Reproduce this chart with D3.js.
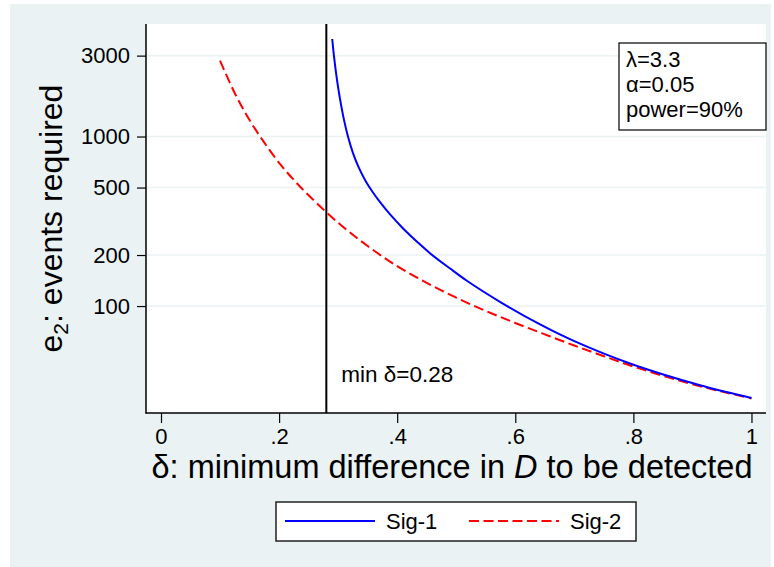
<!DOCTYPE html>
<html>
<head>
<meta charset="utf-8">
<script src="https://cdn.jsdelivr.net/npm/d3@7"></script>
<style>
  html, body { margin: 0; padding: 0; background: #ffffff; }
  svg { display: block; font-family: "Liberation Sans", Arial, sans-serif; }
</style>
</head>
<body>
<svg id="chart" width="774" height="567"></svg>
<script>
// Minimum detectable difference (delta) and events required, two significance rules
const sig1Delta  = [0.290, 0.293, 0.298, 0.303, 0.310, 0.317, 0.325, 0.335, 0.346, 0.357, 0.371, 0.388, 0.410, 0.434, 0.457, 0.489, 0.518, 0.574, 0.642, 0.699, 0.799, 0.913, 1.000];
const sig1Events = [3760, 2970, 2163, 1680, 1250, 989, 801, 655, 551, 479, 410, 347, 287, 239, 203, 167, 141, 106, 77.9, 62.3, 45.2, 34.1, 28.7];

const sig2Delta  = [0.100, 0.125, 0.150, 0.175, 0.200, 0.225, 0.250, 0.300, 0.350, 0.400, 0.450, 0.500, 0.550, 0.600, 0.650, 0.700, 0.750, 0.800, 0.850, 0.900, 0.950, 1.000];
const sig2Events = [2800, 1800, 1250, 920, 700, 554, 450, 310, 226, 172, 137, 112, 93.6, 79.5, 68.1, 58.5, 50.6, 44.0, 38.8, 34.6, 31.3, 28.5];

const minDelta = 0.28;
const xTicks = [0, 0.2, 0.4, 0.6, 0.8, 1];
const xTickLabels = ["0", ".2", ".4", ".6", ".8", "1"];
const yTicks = [100, 200, 500, 1000, 3000];
const yTickLabels = ["100", "200", "500", "1000", "3000"];
const seriesNames = ["Sig-1", "Sig-2"];
const noteLines = ["\u03bb=3.3", "\u03b1=0.05", "power=90%"];

const svg = d3.select("#chart");
const bg = "#eaf2f3";
const dash2 = "10,4.5";

// outer panel
svg.append("rect").attr("x", 10).attr("y", 4).attr("width", 761).attr("height", 563).attr("fill", bg);

const plot = { left: 146, right: 766, top: 24, bottom: 413 };
svg.append("rect")
  .attr("x", plot.left).attr("y", plot.top)
  .attr("width", plot.right - plot.left).attr("height", plot.bottom - plot.top)
  .attr("fill", "#ffffff");

const x = d3.scaleLinear().domain([-0.0254, 1.0246]).range([plot.left, plot.right]);
const y = d3.scaleLog().domain([23.4, 4610]).range([plot.bottom, plot.top]);

// horizontal grid lines
svg.append("g").selectAll("line").data(yTicks).join("line")
  .attr("x1", plot.left).attr("x2", plot.right)
  .attr("y1", d => y(d)).attr("y2", d => y(d))
  .attr("stroke", bg).attr("stroke-width", 1.5);

// y axis
const yAxis = d3.axisLeft(y).tickValues(yTicks)
  .tickFormat((d, i) => yTickLabels[i]).tickSize(9).tickPadding(7).tickSizeOuter(0);
const gy = svg.append("g").attr("transform", `translate(${plot.left},0)`).call(yAxis);
gy.select(".domain").remove();
gy.selectAll(".tick line").attr("stroke", "#000").attr("stroke-width", 1.2);
gy.selectAll(".tick text").attr("font-size", 22).attr("fill", "#000")
  .attr("font-family", "Liberation Sans, Arial, sans-serif");
svg.append("line").attr("x1", plot.left).attr("x2", plot.left)
  .attr("y1", plot.top).attr("y2", plot.bottom + 0.5)
  .attr("stroke", "#000").attr("stroke-width", 1.5);

// x axis
const xAxis = d3.axisBottom(x).tickValues(xTicks)
  .tickFormat((d, i) => xTickLabels[i]).tickSize(10).tickPadding(5).tickSizeOuter(0);
const gx = svg.append("g").attr("transform", `translate(0,${plot.bottom})`).call(xAxis);
gx.select(".domain").remove();
gx.selectAll(".tick line").attr("stroke", "#000").attr("stroke-width", 1.2);
gx.selectAll(".tick text").attr("font-size", 22).attr("fill", "#000")
  .attr("font-family", "Liberation Sans, Arial, sans-serif");
svg.append("line").attr("x1", plot.left - 0.5).attr("x2", plot.right)
  .attr("y1", plot.bottom).attr("y2", plot.bottom)
  .attr("stroke", "#000").attr("stroke-width", 1.5);

// vertical reference line at the minimum detectable difference
svg.append("line")
  .attr("x1", x(minDelta)).attr("x2", x(minDelta))
  .attr("y1", plot.top).attr("y2", plot.bottom)
  .attr("stroke", "#000").attr("stroke-width", 2);

svg.append("text").attr("x", x(minDelta) + 15).attr("y", 382)
  .attr("font-size", 22.5).attr("fill", "#000")
  .text("min \u03b4=" + minDelta.toFixed(2));

// curves (centripetal Catmull-Rom keeps them smooth through unevenly spaced points)
const line = d3.line().x(d => x(d[0])).y(d => y(d[1])).curve(d3.curveCatmullRom.alpha(0.5));
const sig1 = sig1Delta.map((d, i) => [d, sig1Events[i]]);
const sig2 = sig2Delta.map((d, i) => [d, sig2Events[i]]);

svg.append("path").datum(sig2).attr("d", line)
  .attr("fill", "none").attr("stroke", "#ff0000").attr("stroke-width", 2)
  .attr("stroke-dasharray", dash2);
svg.append("path").datum(sig1).attr("d", line)
  .attr("fill", "none").attr("stroke", "#0000ff").attr("stroke-width", 2);

// note box
svg.append("rect").attr("x", 619).attr("y", 43).attr("width", 147).attr("height", 87)
  .attr("fill", "#ffffff").attr("stroke", "#000").attr("stroke-width", 1.2);
svg.append("g").selectAll("text").data(noteLines).join("text")
  .attr("x", 626).attr("y", (d, i) => 67 + i * 25)
  .attr("font-size", 22).attr("fill", "#000").text(d => d);

// axis titles
const yTitle = svg.append("text")
  .attr("transform", `translate(62,${(plot.top + plot.bottom) / 2}) rotate(-90)`)
  .attr("text-anchor", "middle").attr("font-size", 32).attr("fill", "#000");
yTitle.append("tspan").text("e");
yTitle.append("tspan").attr("font-size", 21).attr("dy", 6).text("2");
yTitle.append("tspan").attr("dy", -6).text(": events required");

const xTitle = svg.append("text")
  .attr("x", (plot.left + plot.right) / 2 - 4).attr("y", 478)
  .attr("text-anchor", "middle").attr("font-size", 32.5).attr("fill", "#000");
xTitle.append("tspan").text("\u03b4: minimum difference in ");
xTitle.append("tspan").attr("font-style", "italic").text("D");
xTitle.append("tspan").text(" to be detected");

// legend
const lg = svg.append("g");
lg.append("rect").attr("x", 276).attr("y", 502).attr("width", 360).attr("height", 39)
  .attr("fill", "#ffffff").attr("stroke", "#222").attr("stroke-width", 1.5);
const legendItems = [
  { name: seriesNames[0], color: "#0000ff", dash: null, x0: 285 },
  { name: seriesNames[1], color: "#ff0000", dash: dash2, x0: 469 }
];
legendItems.forEach(it => {
  lg.append("line").attr("x1", it.x0).attr("x2", it.x0 + 90).attr("y1", 521).attr("y2", 521)
    .attr("stroke", it.color).attr("stroke-width", 2)
    .attr("stroke-dasharray", it.dash);
  lg.append("text").attr("x", it.x0 + 101).attr("y", 529)
    .attr("font-size", 22).attr("fill", "#000").text(it.name);
});
</script>
</body>
</html>
